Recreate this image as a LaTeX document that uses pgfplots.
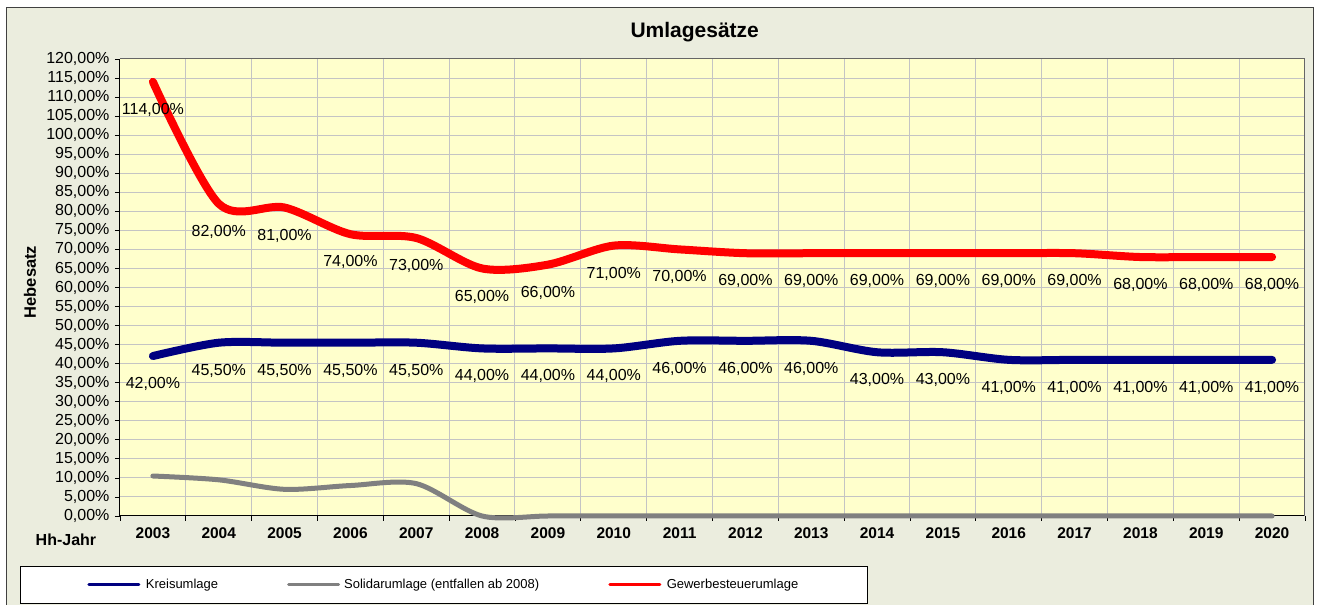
\documentclass[border=0pt]{standalone}
\usepackage{fontspec}
\setmainfont{Liberation Sans}
\usepackage{pgfplots}
\pgfplotsset{compat=1.18}
\definecolor{outerbg}{RGB}{235,237,222}
\definecolor{plotbg}{RGB}{255,255,204}
\definecolor{gridc}{RGB}{196,196,196}
\definecolor{navyc}{RGB}{0,0,128}
\definecolor{solgray}{RGB}{128,128,128}

\pgfplotstableread{
x kreis sol gew
0 42.0 10.5 114
1 45.5 9.5 82
2 45.5 7.0 81
3 45.5 8.0 74
4 45.5 8.5 73
5 44.0 0 65
6 44.0 0 66
7 44.0 0 71
8 46.0 0 70
9 46.0 0 69
10 46.0 0 69
11 43.0 0 69
12 43.0 0 69
13 41.0 0 69
14 41.0 0 69
15 41.0 0 68
16 41.0 0 68
17 41.0 0 68
}\data

\begin{document}
\begin{tikzpicture}[x=1pt,y=1pt]
\useasboundingbox (0,0) rectangle (1318,605);
\fill[white] (0,0) rectangle (1318,605);
\filldraw[fill=outerbg, draw=black!75, line width=1pt] (6,-10) rectangle (1313,597);
\begin{axis}[
  at={(120pt,89pt)}, anchor=south west,
  scale only axis, width=1185pt, height=457pt,
  xmin=-0.5, xmax=17.5, ymin=0, ymax=120,
  clip=false,
  axis background/.style={fill=plotbg},
  axis lines*=left,
  axis line style={-, black, line width=1pt},
  tick align=outside,
  major tick length=5pt,
  tick style={black, line width=0.8pt},
  xtick={-0.5,0.5,...,17.5},
  xticklabels={},
  extra x ticks={0,1,...,17},
  extra x tick labels={2003,2004,2005,2006,2007,2008,2009,2010,2011,2012,2013,2014,2015,2016,2017,2018,2019,2020},
  extra x tick style={major tick length=0pt, grid=none},
  ytick={0,5,...,120},
  grid=major,
  grid style={gridc, line width=1pt},
  /pgf/number format/assume math mode=true,
  yticklabel={\pgfmathprintnumber[fixed,fixed zerofill,precision=2,use comma]{\tick}\%},
  yticklabel style={font=\fontsize{16}{19}\selectfont, xshift=-2pt},
  xticklabel style={font=\fontsize{15.5}{18}\selectfont\bfseries, yshift=-8pt},
  title={Umlagesätze},
  title style={font=\fontsize{21}{25}\selectfont\bfseries, at={(0.485,1.046)}, anchor=center, yshift=0pt},
  ylabel={Hebesatz},
  ylabel style={font=\fontsize{16.5}{19}\selectfont\bfseries, at={(-0.0759,0.512)}, anchor=center, rotate=0},
  xlabel={Hh-Jahr},
  xlabel style={font=\fontsize{16}{19}\selectfont\bfseries, at={(-0.0456,-0.0525)}, anchor=center},
  legend columns=3,
  legend style={at={(-0.0844,-0.1094)}, anchor=north west, draw=black, fill=white,
    line width=0.8pt, inner xsep=67pt, inner ysep=11pt,
    font=\fontsize{13}{16}\selectfont,
    /tikz/every even column/.append style={column sep=67pt}},
  legend image code/.code={\draw[line width=3pt] (0pt,0pt) -- (50pt,0pt); \path (51pt,0pt);},
  nodes near coords style={font=\fontsize{16}{19}\selectfont, anchor=center, yshift=-28pt, black},
  after end axis/.code={\draw[black!60, line width=1pt] (rel axis cs:0,1) -- (rel axis cs:1,1) -- (rel axis cs:1,0);},
]
\addplot[navyc, line width=8pt, smooth, line cap=round,
  nodes near coords={\pgfmathprintnumber[fixed,fixed zerofill,precision=2,use comma]{\pgfplotspointmeta}\%},
  point meta=explicit] table[x=x, y=kreis, meta=kreis] {\data};
\addlegendentry{Kreisumlage}
\addplot[solgray, line width=5pt, smooth, line cap=round] table[x=x, y=sol] {\data};
\addlegendentry{Solidarumlage (entfallen ab 2008)}
\addplot[red, line width=8pt, smooth, line cap=round,
  nodes near coords={\pgfmathprintnumber[fixed,fixed zerofill,precision=2,use comma]{\pgfplotspointmeta}\%},
  point meta=explicit] table[x=x, y=gew, meta=gew] {\data};
\addlegendentry{Gewerbesteuerumlage}
\end{axis}
\end{tikzpicture}
\end{document}
